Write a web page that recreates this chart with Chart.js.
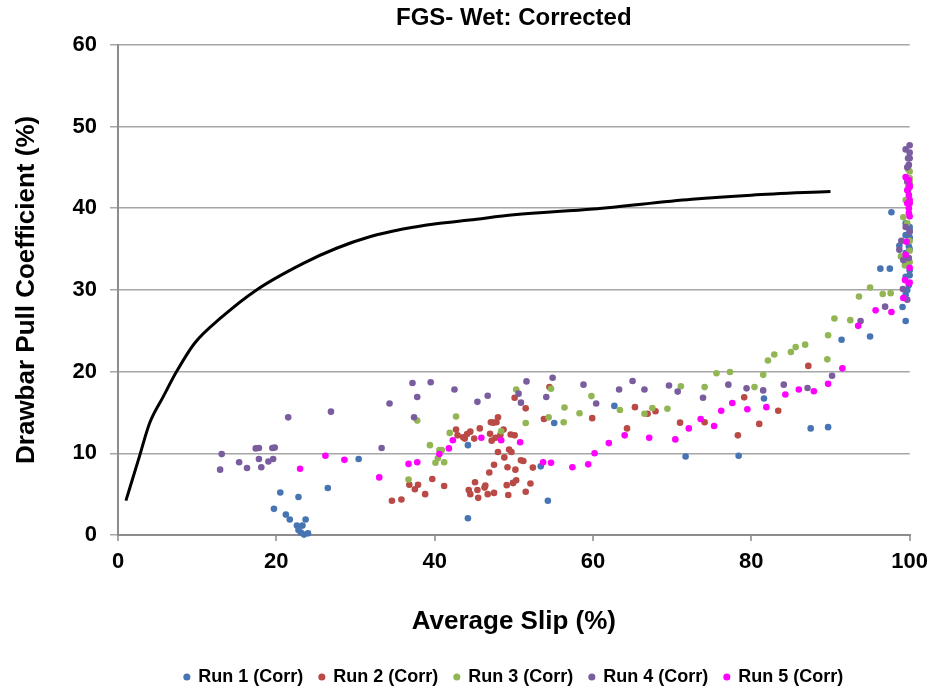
<!DOCTYPE html>
<html lang="en">
  <head>
    <meta charset="UTF-8" />
    <title>FGS- Wet: Corrected</title>
    <script src="https://cdn.jsdelivr.net/npm/chart.js"></script>
    <style>
      html, body { margin: 0; padding: 0; background: #fff; }
      #wrap { width: 936px; height: 691px; }
    </style>
  </head>
  <body>
    <div id="wrap"><canvas id="chart"></canvas></div>
    <script>
      // values (slip %, pull coefficient %)
      const run1X = [30.4, 26.5, 20.5, 22.8, 19.7, 21.2, 21.7, 22.6, 23.3, 23.7, 22.8, 23.1, 23.5, 24.0,
        44.2, 55.1, 53.4, 49.9, 54.3, 44.2, 62.7, 71.7, 78.4, 81.6, 87.5, 89.7,
        97.7, 96.3, 97.5, 95.0, 91.4,
        99.5, 100, 100, 99.5, 100, 100, 98.7, 99.9, 100, 99.5, 99.4, 100, 100, 99.5, 99.9, 99.7, 99.5, 99.1, 99.5];
      const run1Y = [9.3, 5.75, 5.2, 4.65, 3.2, 2.5, 1.9, 1.15, 1.15, 1.9, 0.6, 0.3, 0.05, 0.2,
        11.0, 13.7, 8.4, 6.4, 4.2, 2.05, 15.8, 9.6, 9.7, 16.7, 13.05, 13.2,
        39.5, 32.6, 32.6, 24.3, 23.9,
        38.15, 37.7, 37.3, 36.7, 36.4, 36.3, 35.4, 35.3, 35.0, 34.5, 33.5, 32.4, 31.8, 31.6, 30.6, 30.0, 29.4, 27.9, 26.2];

      const run2X = [54.5, 50.1, 51.5, 53.8, 59.9, 48.0, 47.1, 47.4, 47.8, 45.7, 48.7, 42.7, 44.5, 44.1, 43.6, 43.8,
        42.9, 45.0, 47.0, 48.3, 49.6, 50.1, 47.2, 47.7, 48.0, 49.4, 49.7, 48.8, 47.5, 49.2, 50.2, 50.9, 51.2, 52.4,
        46.9, 39.7, 41.2, 36.8, 37.9, 37.5, 38.8, 34.6, 35.8, 45.1, 44.3, 45.4, 44.5, 45.5, 46.3, 46.4, 46.7, 47.5,
        49.1, 50.3, 49.9, 49.3, 52.1, 51.5,
        65.3, 64.3, 66.9, 67.9, 71.0, 74.1, 78.3, 79.1, 81.0, 83.4, 87.2];
      const run2Y = [18.1, 16.8, 15.5, 14.2, 14.3, 14.4, 13.8, 13.75, 13.8, 13.05, 12.9, 12.9, 12.65, 12.35, 11.95, 11.8,
        12.2, 11.8, 12.4, 12.25, 12.3, 12.2, 11.55, 11.9, 10.15, 10.45, 10.15, 9.5, 8.6, 8.3, 8.0, 9.15, 9.05, 8.25,
        7.65, 6.85, 6.0, 6.15, 6.15, 5.6, 5.0, 4.2, 4.35, 6.45, 5.5, 5.5, 5.0, 4.55, 5.8, 6.05, 5.0, 5.15,
        6.1, 6.7, 6.35, 4.9, 6.3, 5.3,
        15.65, 13.05, 14.85, 15.15, 13.75, 13.8, 12.2, 16.85, 13.6, 15.2, 20.7];

      const run3X = [37.8, 42.7, 50.3, 54.7, 59.8, 56.4, 58.3, 56.3, 54.4, 51.5, 48.4, 41.9, 39.4, 40.6, 40.9, 40.4, 40.1, 41.2, 36.7,
        63.4, 66.5, 67.5, 69.4, 71.1, 74.1, 75.6, 77.3, 80.4, 81.5, 82.1, 82.9, 85.0, 85.6, 86.8, 89.7, 90.5, 89.6,
        95.0, 93.6, 96.6, 97.6, 92.5,
        100, 100, 100, 99.5, 100, 99.2, 99.7, 100, 100, 98.9, 99.4, 100, 99.8, 99.8];
      const run3Y = [14.0, 14.5, 17.8, 17.9, 17.0, 15.6, 14.9, 13.8, 14.4, 13.7, 12.7, 12.5, 11.0, 10.4, 10.4, 9.4, 8.85, 8.9, 6.8,
        15.3, 14.85, 15.55, 15.45, 18.2, 18.1, 19.8, 19.95, 18.1, 19.6, 21.35, 22.1, 22.4, 23.0, 23.3, 24.45, 26.5, 21.5,
        30.3, 29.2, 29.5, 29.6, 26.3,
        44.5, 43.7, 43.2, 41.0, 40.8, 38.9, 38.15, 36.0, 34.8, 34.1, 33.0, 33.4, 44.8, 42.6];

      const run4X = [21.5, 26.9, 13.1, 12.9, 15.3, 16.3, 17.4, 17.8, 17.8, 18.1, 19.0, 19.6, 19.5, 19.8,
        37.2, 39.5, 34.3, 37.8, 37.4, 33.3, 42.5, 45.4, 46.7, 51.6, 54.9, 50.6, 50.9, 54.1, 58.8, 60.4,
        63.3, 65.0, 66.5, 69.6, 70.7, 73.9, 77.1, 79.4, 81.5, 84.1, 87.1, 90.2,
        100, 99.5, 100, 99.8, 100, 99.9, 99.7, 99.7, 99.8, 98.95, 98.7, 99.5, 100, 99.2, 99.9, 99.15, 99.7, 96.9, 93.8];
      const run4Y = [14.4, 15.1, 9.9, 8.0, 8.9, 8.2, 10.6, 10.65, 9.3, 8.3, 9.0, 9.3, 10.65, 10.7,
        18.6, 18.7, 16.1, 16.9, 14.4, 10.65, 17.8, 16.3, 17.05, 18.8, 19.25, 17.3, 16.2, 16.9, 18.4, 16.1,
        17.8, 18.85, 17.8, 18.3, 17.55, 16.8, 18.4, 17.95, 17.7, 18.4, 18.0, 19.5,
        47.7, 47.2, 46.8, 46.1, 46.1, 45.3, 45.0, 43.25, 42.2, 36.0, 34.9, 37.7, 37.1, 33.65, 33.9, 30.1, 28.8, 27.95, 26.2];

      const run5X = [23.0, 26.2, 28.6,
        42.3, 45.9, 48.4, 50.8, 41.8, 40.6, 37.8, 36.7, 33.0, 53.7, 54.7, 57.4, 59.4, 60.2,
        62.0, 64.0, 67.1, 70.4, 72.1, 73.6, 75.3, 76.2, 77.6, 79.5, 81.9, 84.3, 86.0, 87.9, 89.7,
        91.5, 93.5, 95.7, 97.7, 99.2, 99.4, 99.9, 100, 100, 99.5, 99.6,
        99.5, 99.9, 100, 100, 99.7, 99.9, 100, 99.7, 100, 99.9, 99.9, 100];
      const run5Y = [8.1, 9.7, 9.2,
        11.6, 11.9, 11.6, 11.35, 10.6, 9.9, 8.9, 8.7, 7.05, 8.9, 8.85, 8.3, 8.65, 10.0,
        11.25, 12.2, 11.9, 11.7, 13.05, 14.2, 13.35, 15.2, 16.15, 15.4, 15.65, 17.2, 17.8, 17.6, 18.5,
        20.4, 25.6, 27.5, 27.3, 29.0, 31.2, 30.8, 30.9, 32.7, 34.3, 35.9,
        43.8, 43.45, 42.8, 42.6, 42.2, 41.6, 41.0, 40.6, 40.6, 40.0, 39.4, 39.0];

      // black reference curve
      const curveX = [1.0, 2.7, 4.0, 5.7, 7.4, 9.7, 12.9, 17.5, 23.4, 27.6, 31.8, 36.0, 40.2, 44.4, 50.0, 60.0, 72.5, 80.0, 90.0];
      const curveY = [4.2, 9.6, 13.7, 16.9, 20.0, 23.5, 26.5, 30.0, 33.25, 35.1, 36.5, 37.45, 38.1, 38.55, 39.2, 39.9, 41.1, 41.6, 42.05];

      const runNames = ["Run 1 (Corr)", "Run 2 (Corr)", "Run 3 (Corr)", "Run 4 (Corr)", "Run 5 (Corr)"];
      const runColors = ["#4775b3", "#b94a46", "#93b655", "#7a5d9f", "#ff00ff"];
      const runsX = [run1X, run2X, run3X, run4X, run5X];
      const runsY = [run1Y, run2Y, run3Y, run4Y, run5Y];

      const toPoints = (xs, ys) => xs.map((x, i) => ({ x: x, y: ys[i] }));

      const datasets = runNames.map((name, i) => ({
        label: name,
        data: toPoints(runsX[i], runsY[i]),
        backgroundColor: runColors[i],
        borderColor: runColors[i],
        pointRadius: 3.3,
        pointBorderWidth: 0,
        clip: false,
        order: 5 - i,
      }));
      datasets.push({
        label: "curve",
        data: toPoints(curveX, curveY),
        showLine: true,
        borderColor: "#000",
        borderWidth: 3,
        pointRadius: 0,
        cubicInterpolationMode: "monotone",
        order: 0,
      });

      const gray = "#a6a6a6";
      const font = "'Liberation Sans', Arial, sans-serif";

      new Chart(document.getElementById("chart"), {
        type: "scatter",
        data: { datasets: datasets },
        options: {
          responsive: true,
          maintainAspectRatio: false,
          animation: false,
          layout: { padding: { left: 0, right: 25, top: 0, bottom: 0 } },
          plugins: {
            title: {
              display: true,
              fullSize: false,
              text: "FGS- Wet: Corrected",
              color: "#000",
              font: { family: font, size: 24, weight: "bold" },
              padding: { top: 4, bottom: 12 },
            },
            legend: {
              position: "bottom",
              fullSize: false,
              maxHeight: 39,
              labels: {
                filter: (item) => item.text !== "curve",
                sort: (a, b) => a.datasetIndex - b.datasetIndex,
                usePointStyle: true,
                pointStyle: "circle",
                boxWidth: 5,
                boxHeight: 5,
                padding: 16,
                color: "#000",
                font: { family: font, size: 18, weight: "bold" },
              },
            },
            tooltip: { enabled: false },
          },
          scales: {
            x: {
              min: 0,
              max: 100,
              ticks: { stepSize: 20, color: "#000", padding: 8, font: { family: font, size: 22, weight: "bold" } },
              grid: { drawOnChartArea: false, color: gray, tickLength: 6, lineWidth: 2 },
              border: { color: "#8c8c8c", width: 2 },
              title: {
                display: true,
                text: "Average Slip (%)",
                color: "#000",
                font: { family: font, size: 26, weight: "bold" },
                padding: { top: 10, bottom: 15 },
              },
              afterFit: (scale) => { scale.height = 117; },
            },
            y: {
              min: 0,
              max: 60,
              ticks: { stepSize: 10, color: "#000", padding: 13, font: { family: font, size: 22, weight: "bold" } },
              grid: { color: gray, lineWidth: 1.5, tickLength: 8 },
              border: { color: "#8c8c8c", width: 2 },
              title: {
                display: true,
                text: "Drawbar Pull Coefficient (%)",
                color: "#000",
                font: { family: font, size: 26, weight: "bold" },
                padding: { top: 11, bottom: 0 },
              },
              afterFit: (scale) => { scale.width = 118; },
            },
          },
        },
      });
    </script>
  </body>
</html>
